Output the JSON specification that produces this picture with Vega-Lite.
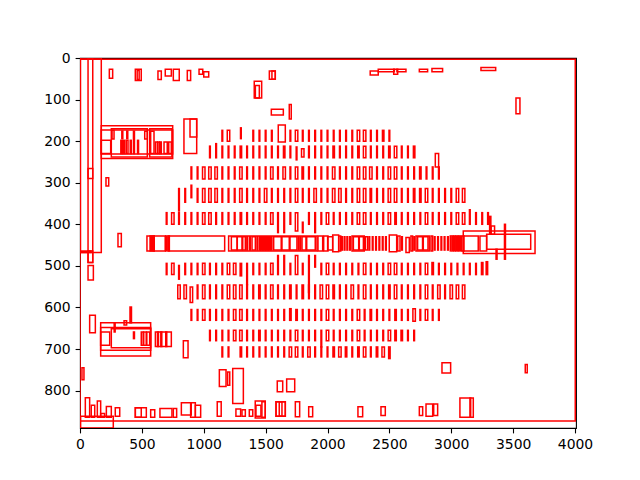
{
"$schema": "https://vega.github.io/schema/vega-lite/v6.json",
"width": 496, "height": 370,
"autosize": "none",
"padding": {"left": 80, "top": 58, "right": 64, "bottom": 52},
"background": "white",
"config": {
 "view": {"stroke": "black", "strokeWidth": 1.1},
 "axis": {"domain": false, "grid": false, "ticks": true, "tickColor": "black", "tickWidth": 1.1, "tickSize": 4.9, "labelFont": "DejaVu Sans", "labelFontSize": 13.9, "labelColor": "black", "labelPadding": 4.9, "title": null, "labelOverlap": false, "format": "d"}
},
"data": {"values": [
{"x":0,"x2":4002,"y":3,"y2":873},
{"x":5,"x2":269,"y":862,"y2":890},
{"x":4,"x2":172,"y":0,"y2":468},
{"x":65,"x2":103,"y":0,"y2":492},
{"x":0,"x2":89,"y":464,"y2":468},
{"x":65,"x2":103,"y":464,"y2":492},
{"x":65,"x2":103,"y":266,"y2":290},
{"x":65,"x2":108,"y":499,"y2":534},
{"x":307,"x2":334,"y":422,"y2":454},
{"x":210,"x2":232,"y":288,"y2":308},
{"x":237,"x2":264,"y":27,"y2":49},
{"x":447,"x2":495,"y":27,"y2":54},
{"x":462,"x2":478,"y":30,"y2":52},
{"x":630,"x2":657,"y":31,"y2":52},
{"x":689,"x2":738,"y":27,"y2":43},
{"x":754,"x2":802,"y":27,"y2":54},
{"x":867,"x2":894,"y":30,"y2":54},
{"x":962,"x2":992,"y":27,"y2":39},
{"x":1000,"x2":1040,"y":33,"y2":46},
{"x":1408,"x2":1468,"y":56,"y2":96},
{"x":1417,"x2":1449,"y":66,"y2":96},
{"x":1530,"x2":1578,"y":31,"y2":51},
{"x":1551,"x2":1578,"y":31,"y2":51},
{"x":1546,"x2":1643,"y":123,"y2":137},
{"x":1691,"x2":1707,"y":112,"y2":147},
{"x":2345,"x2":2410,"y":31,"y2":41},
{"x":2410,"x2":2540,"y":27,"y2":33},
{"x":2535,"x2":2567,"y":27,"y2":39},
{"x":2561,"x2":2634,"y":27,"y2":33},
{"x":2742,"x2":2809,"y":27,"y2":33},
{"x":2844,"x2":2930,"y":25,"y2":33},
{"x":3240,"x2":3359,"y":23,"y2":30},
{"x":3523,"x2":3555,"y":96,"y2":134},
{"x":172,"x2":749,"y":163,"y2":242},
{"x":172,"x2":749,"y":173,"y2":231},
{"x":253,"x2":544,"y":170,"y2":238},
{"x":563,"x2":743,"y":170,"y2":238},
{"x":172,"x2":248,"y":198,"y2":230},
{"x":259,"x2":275,"y":174,"y2":195},
{"x":330,"x2":342,"y":198,"y2":230},
{"x":350,"x2":362,"y":198,"y2":230},
{"x":374,"x2":388,"y":198,"y2":230},
{"x":338,"x2":346,"y":176,"y2":194},
{"x":378,"x2":386,"y":176,"y2":194},
{"x":406,"x2":414,"y":198,"y2":230},
{"x":432,"x2":440,"y":176,"y2":230},
{"x":465,"x2":473,"y":198,"y2":230},
{"x":523,"x2":544,"y":176,"y2":195},
{"x":571,"x2":598,"y":176,"y2":230},
{"x":609,"x2":625,"y":202,"y2":230},
{"x":628,"x2":642,"y":202,"y2":230},
{"x":645,"x2":657,"y":202,"y2":230},
{"x":679,"x2":705,"y":202,"y2":230},
{"x":717,"x2":738,"y":202,"y2":230},
{"x":840,"x2":943,"y":147,"y2":230},
{"x":889,"x2":943,"y":147,"y2":190},
{"x":167,"x2":571,"y":637,"y2":717},
{"x":167,"x2":571,"y":648,"y2":703},
{"x":253,"x2":571,"y":651,"y2":697},
{"x":167,"x2":240,"y":659,"y2":691},
{"x":404,"x2":416,"y":599,"y2":637},
{"x":356,"x2":377,"y":632,"y2":642},
{"x":276,"x2":284,"y":637,"y2":659},
{"x":432,"x2":440,"y":659,"y2":675},
{"x":495,"x2":510,"y":659,"y2":691},
{"x":515,"x2":535,"y":659,"y2":691},
{"x":540,"x2":563,"y":659,"y2":691},
{"x":609,"x2":738,"y":659,"y2":694},
{"x":626,"x2":634,"y":659,"y2":694},
{"x":653,"x2":661,"y":659,"y2":694},
{"x":693,"x2":701,"y":659,"y2":694},
{"x":78,"x2":124,"y":619,"y2":661},
{"x":835,"x2":873,"y":680,"y2":721},
{"x":16,"x2":32,"y":745,"y2":774},
{"x":1126,"x2":1180,"y":750,"y2":790},
{"x":1193,"x2":1210,"y":755,"y2":787},
{"x":1234,"x2":1320,"y":747,"y2":831},
{"x":1594,"x2":1638,"y":777,"y2":803},
{"x":1670,"x2":1735,"y":772,"y2":803},
{"x":2925,"x2":2995,"y":733,"y2":758},
{"x":3598,"x2":3614,"y":737,"y2":757},
{"x":43,"x2":78,"y":817,"y2":864},
{"x":91,"x2":119,"y":835,"y2":864},
{"x":140,"x2":167,"y":825,"y2":864},
{"x":167,"x2":199,"y":855,"y2":864},
{"x":213,"x2":253,"y":838,"y2":864},
{"x":285,"x2":321,"y":841,"y2":862},
{"x":447,"x2":536,"y":841,"y2":864},
{"x":447,"x2":495,"y":841,"y2":864},
{"x":571,"x2":604,"y":846,"y2":864},
{"x":646,"x2":743,"y":843,"y2":864},
{"x":754,"x2":781,"y":843,"y2":864},
{"x":819,"x2":899,"y":829,"y2":859},
{"x":894,"x2":932,"y":829,"y2":864},
{"x":932,"x2":975,"y":835,"y2":864},
{"x":1109,"x2":1141,"y":827,"y2":862},
{"x":1260,"x2":1298,"y":844,"y2":862},
{"x":1309,"x2":1336,"y":846,"y2":862},
{"x":1368,"x2":1396,"y":846,"y2":862},
{"x":1416,"x2":1497,"y":825,"y2":866},
{"x":1422,"x2":1462,"y":835,"y2":862},
{"x":1470,"x2":1497,"y":827,"y2":864},
{"x":1584,"x2":1659,"y":827,"y2":862},
{"x":1584,"x2":1632,"y":827,"y2":862},
{"x":1610,"x2":1659,"y":827,"y2":862},
{"x":1740,"x2":1775,"y":827,"y2":863},
{"x":1848,"x2":1880,"y":839,"y2":863},
{"x":2246,"x2":2284,"y":839,"y2":863},
{"x":2432,"x2":2467,"y":839,"y2":860},
{"x":2742,"x2":2769,"y":839,"y2":860},
{"x":2796,"x2":2850,"y":832,"y2":862},
{"x":2858,"x2":2890,"y":832,"y2":860},
{"x":3070,"x2":3157,"y":818,"y2":864},
{"x":3151,"x2":3178,"y":818,"y2":864},
{"x":541,"x2":598,"y":428,"y2":464},
{"x":566,"x2":578,"y":428,"y2":464},
{"x":588,"x2":600,"y":428,"y2":464},
{"x":598,"x2":689,"y":428,"y2":464},
{"x":692,"x2":702,"y":428,"y2":464},
{"x":710,"x2":722,"y":428,"y2":464},
{"x":717,"x2":1169,"y":428,"y2":464},
{"x":1201,"x2":1915,"y":428,"y2":464},
{"x":1223,"x2":1269,"y":430,"y2":462},
{"x":1271,"x2":1309,"y":430,"y2":462},
{"x":1315,"x2":1336,"y":430,"y2":462},
{"x":1348,"x2":1354,"y":430,"y2":462},
{"x":1370,"x2":1376,"y":430,"y2":462},
{"x":1390,"x2":1417,"y":430,"y2":462},
{"x":1430,"x2":1436,"y":430,"y2":462},
{"x":1449,"x2":1457,"y":430,"y2":462},
{"x":1462,"x2":1470,"y":430,"y2":462},
{"x":1475,"x2":1483,"y":430,"y2":462},
{"x":1488,"x2":1496,"y":430,"y2":462},
{"x":1501,"x2":1509,"y":430,"y2":462},
{"x":1514,"x2":1522,"y":430,"y2":462},
{"x":1527,"x2":1535,"y":430,"y2":462},
{"x":1541,"x2":1551,"y":430,"y2":462},
{"x":1565,"x2":1626,"y":430,"y2":462},
{"x":1632,"x2":1691,"y":430,"y2":462},
{"x":1697,"x2":1753,"y":430,"y2":462},
{"x":1763,"x2":1769,"y":430,"y2":462},
{"x":1778,"x2":1784,"y":430,"y2":462},
{"x":1794,"x2":1826,"y":430,"y2":462},
{"x":1832,"x2":1901,"y":430,"y2":462},
{"x":1923,"x2":1961,"y":428,"y2":464},
{"x":1969,"x2":2004,"y":428,"y2":464},
{"x":2001,"x2":2042,"y":430,"y2":462},
{"x":2042,"x2":2090,"y":426,"y2":466},
{"x":2092,"x2":2107,"y":428,"y2":464},
{"x":2114,"x2":2120,"y":430,"y2":462},
{"x":2135,"x2":2141,"y":430,"y2":462},
{"x":2157,"x2":2163,"y":430,"y2":462},
{"x":2179,"x2":2185,"y":430,"y2":462},
{"x":2198,"x2":2297,"y":428,"y2":464},
{"x":2209,"x2":2252,"y":430,"y2":462},
{"x":2257,"x2":2290,"y":430,"y2":462},
{"x":2306,"x2":2324,"y":430,"y2":462},
{"x":2335,"x2":2341,"y":430,"y2":462},
{"x":2362,"x2":2368,"y":430,"y2":462},
{"x":2389,"x2":2395,"y":430,"y2":462},
{"x":2416,"x2":2422,"y":430,"y2":462},
{"x":2443,"x2":2449,"y":430,"y2":462},
{"x":2469,"x2":2475,"y":430,"y2":462},
{"x":2499,"x2":2559,"y":426,"y2":466},
{"x":2567,"x2":2586,"y":428,"y2":464},
{"x":2599,"x2":2605,"y":430,"y2":462},
{"x":2634,"x2":2661,"y":432,"y2":468},
{"x":2674,"x2":2688,"y":428,"y2":464},
{"x":2698,"x2":2704,"y":430,"y2":462},
{"x":2715,"x2":2822,"y":428,"y2":464},
{"x":2728,"x2":2768,"y":430,"y2":462},
{"x":2774,"x2":2812,"y":430,"y2":462},
{"x":2836,"x2":2850,"y":428,"y2":464},
{"x":2863,"x2":2869,"y":430,"y2":462},
{"x":2890,"x2":2896,"y":430,"y2":462},
{"x":2917,"x2":2923,"y":430,"y2":462},
{"x":2943,"x2":2949,"y":430,"y2":462},
{"x":2970,"x2":2976,"y":430,"y2":462},
{"x":2992,"x2":2998,"y":428,"y2":464},
{"x":3007,"x2":3013,"y":428,"y2":464},
{"x":3019,"x2":3031,"y":428,"y2":464},
{"x":3037,"x2":3043,"y":428,"y2":464},
{"x":3052,"x2":3058,"y":428,"y2":464},
{"x":3064,"x2":3076,"y":428,"y2":464},
{"x":3084,"x2":3103,"y":428,"y2":464},
{"x":3097,"x2":3677,"y":416,"y2":470},
{"x":3097,"x2":3218,"y":428,"y2":464},
{"x":3232,"x2":3286,"y":428,"y2":464},
{"x":3286,"x2":3642,"y":424,"y2":460},
{"x":3310,"x2":3320,"y":381,"y2":424},
{"x":3322,"x2":3350,"y":404,"y2":424},
{"x":3430,"x2":3438,"y":400,"y2":484},
{"x":3362,"x2":3370,"y":460,"y2":484},

{"x":1147,"x2":1153,"y":174,"y2":200},
{"x":1190,"x2":1210,"y":174,"y2":200},
{"x":1297,"x2":1303,"y":168,"y2":194},
{"x":1397,"x2":1403,"y":174,"y2":200},
{"x":1447,"x2":1453,"y":174,"y2":200},
{"x":1497,"x2":1503,"y":174,"y2":200},
{"x":1547,"x2":1553,"y":174,"y2":200},
{"x":1602,"x2":1659,"y":161,"y2":202},
{"x":1697,"x2":1703,"y":174,"y2":200},
{"x":1740,"x2":1760,"y":174,"y2":200},
{"x":1797,"x2":1803,"y":174,"y2":200},
{"x":1847,"x2":1853,"y":174,"y2":200},
{"x":1897,"x2":1903,"y":174,"y2":200},
{"x":1947,"x2":1953,"y":174,"y2":200},
{"x":1997,"x2":2003,"y":174,"y2":200},
{"x":2047,"x2":2053,"y":174,"y2":200},
{"x":2097,"x2":2103,"y":174,"y2":200},
{"x":2147,"x2":2153,"y":174,"y2":200},
{"x":2197,"x2":2203,"y":174,"y2":200},
{"x":2240,"x2":2260,"y":174,"y2":200},
{"x":2290,"x2":2310,"y":174,"y2":200},
{"x":2347,"x2":2353,"y":174,"y2":200},
{"x":2397,"x2":2403,"y":174,"y2":200},
{"x":2444,"x2":2456,"y":174,"y2":200},
{"x":2497,"x2":2503,"y":174,"y2":200},

{"x":1047,"x2":1053,"y":212,"y2":240},
{"x":1097,"x2":1103,"y":206,"y2":240},
{"x":1147,"x2":1153,"y":212,"y2":240},
{"x":1197,"x2":1203,"y":212,"y2":240},
{"x":1247,"x2":1253,"y":212,"y2":240},
{"x":1294,"x2":1306,"y":212,"y2":240},
{"x":1347,"x2":1353,"y":212,"y2":240},
{"x":1397,"x2":1403,"y":212,"y2":240},
{"x":1447,"x2":1453,"y":212,"y2":240},
{"x":1497,"x2":1503,"y":212,"y2":240},
{"x":1547,"x2":1553,"y":212,"y2":240},
{"x":1597,"x2":1603,"y":212,"y2":240},
{"x":1644,"x2":1656,"y":212,"y2":240},
{"x":1697,"x2":1703,"y":212,"y2":240},
{"x":1747,"x2":1753,"y":214,"y2":245},
{"x":1790,"x2":1810,"y":218,"y2":238},
{"x":1847,"x2":1853,"y":212,"y2":240},
{"x":1897,"x2":1903,"y":212,"y2":240},
{"x":1947,"x2":1953,"y":212,"y2":240},
{"x":1997,"x2":2003,"y":212,"y2":240},
{"x":2044,"x2":2056,"y":212,"y2":240},
{"x":2097,"x2":2103,"y":212,"y2":240},
{"x":2147,"x2":2153,"y":212,"y2":240},
{"x":2197,"x2":2203,"y":212,"y2":240},
{"x":2244,"x2":2256,"y":212,"y2":240},
{"x":2290,"x2":2310,"y":212,"y2":240},
{"x":2347,"x2":2353,"y":212,"y2":240},
{"x":2397,"x2":2403,"y":212,"y2":240},
{"x":2447,"x2":2453,"y":212,"y2":240},
{"x":2494,"x2":2506,"y":212,"y2":240},
{"x":2540,"x2":2560,"y":212,"y2":240},
{"x":2597,"x2":2603,"y":212,"y2":240},
{"x":2647,"x2":2653,"y":212,"y2":240},
{"x":2694,"x2":2706,"y":212,"y2":240},

{"x":2871,"x2":2898,"y":230,"y2":262},
{"x":897,"x2":903,"y":262,"y2":291},
{"x":947,"x2":953,"y":262,"y2":291},
{"x":990,"x2":1010,"y":262,"y2":291},
{"x":1040,"x2":1060,"y":262,"y2":291},
{"x":1090,"x2":1110,"y":262,"y2":291},
{"x":1147,"x2":1153,"y":262,"y2":291},
{"x":1197,"x2":1203,"y":262,"y2":291},
{"x":1247,"x2":1253,"y":262,"y2":291},
{"x":1290,"x2":1310,"y":262,"y2":291},
{"x":1347,"x2":1353,"y":262,"y2":291},
{"x":1397,"x2":1403,"y":262,"y2":291},
{"x":1447,"x2":1453,"y":262,"y2":291},
{"x":1497,"x2":1503,"y":262,"y2":291},
{"x":1540,"x2":1560,"y":262,"y2":291},
{"x":1597,"x2":1603,"y":262,"y2":291},
{"x":1640,"x2":1660,"y":262,"y2":291},
{"x":1697,"x2":1703,"y":262,"y2":291},
{"x":1740,"x2":1760,"y":262,"y2":291},
{"x":1794,"x2":1806,"y":262,"y2":291},
{"x":1847,"x2":1853,"y":262,"y2":291},
{"x":1897,"x2":1903,"y":262,"y2":291},
{"x":1947,"x2":1953,"y":262,"y2":291},
{"x":1997,"x2":2003,"y":262,"y2":291},
{"x":2040,"x2":2060,"y":262,"y2":291},
{"x":2097,"x2":2103,"y":262,"y2":291},
{"x":2147,"x2":2153,"y":262,"y2":291},
{"x":2197,"x2":2203,"y":262,"y2":291},
{"x":2240,"x2":2260,"y":262,"y2":291},
{"x":2290,"x2":2310,"y":262,"y2":291},
{"x":2340,"x2":2360,"y":262,"y2":291},
{"x":2397,"x2":2403,"y":262,"y2":291},
{"x":2447,"x2":2453,"y":262,"y2":291},
{"x":2490,"x2":2510,"y":262,"y2":291},
{"x":2540,"x2":2560,"y":262,"y2":291},
{"x":2597,"x2":2603,"y":262,"y2":291},
{"x":2647,"x2":2653,"y":262,"y2":291},
{"x":2697,"x2":2703,"y":262,"y2":291},
{"x":2744,"x2":2756,"y":262,"y2":291},
{"x":2797,"x2":2803,"y":262,"y2":291},
{"x":2847,"x2":2853,"y":262,"y2":291},
{"x":2897,"x2":2903,"y":262,"y2":291},

{"x":797,"x2":803,"y":314,"y2":368},
{"x":847,"x2":853,"y":314,"y2":347},
{"x":897,"x2":903,"y":306,"y2":336},
{"x":947,"x2":953,"y":314,"y2":347},
{"x":990,"x2":1010,"y":314,"y2":347},
{"x":1040,"x2":1060,"y":314,"y2":347},
{"x":1090,"x2":1110,"y":314,"y2":347},
{"x":1147,"x2":1153,"y":314,"y2":347},
{"x":1197,"x2":1203,"y":314,"y2":347},
{"x":1247,"x2":1253,"y":314,"y2":347},
{"x":1290,"x2":1310,"y":314,"y2":347},
{"x":1347,"x2":1353,"y":314,"y2":347},
{"x":1397,"x2":1403,"y":314,"y2":347},
{"x":1447,"x2":1453,"y":314,"y2":347},
{"x":1490,"x2":1510,"y":314,"y2":347},
{"x":1547,"x2":1553,"y":314,"y2":347},
{"x":1597,"x2":1603,"y":314,"y2":347},
{"x":1647,"x2":1653,"y":314,"y2":347},
{"x":1697,"x2":1703,"y":314,"y2":347},
{"x":1740,"x2":1760,"y":314,"y2":347},
{"x":1797,"x2":1803,"y":314,"y2":347},
{"x":1847,"x2":1853,"y":314,"y2":347},
{"x":1890,"x2":1910,"y":314,"y2":347},
{"x":1947,"x2":1953,"y":314,"y2":347},
{"x":1997,"x2":2003,"y":314,"y2":347},
{"x":2040,"x2":2060,"y":314,"y2":347},
{"x":2090,"x2":2110,"y":314,"y2":347},
{"x":2147,"x2":2153,"y":314,"y2":347},
{"x":2197,"x2":2203,"y":314,"y2":347},
{"x":2240,"x2":2260,"y":314,"y2":347},
{"x":2290,"x2":2310,"y":314,"y2":347},
{"x":2344,"x2":2356,"y":314,"y2":347},
{"x":2397,"x2":2403,"y":314,"y2":347},
{"x":2447,"x2":2453,"y":314,"y2":347},
{"x":2490,"x2":2510,"y":314,"y2":347},
{"x":2540,"x2":2560,"y":314,"y2":347},
{"x":2597,"x2":2603,"y":314,"y2":347},
{"x":2647,"x2":2653,"y":314,"y2":347},
{"x":2694,"x2":2706,"y":314,"y2":347},
{"x":2744,"x2":2756,"y":314,"y2":347},
{"x":2790,"x2":2810,"y":314,"y2":347},
{"x":2847,"x2":2853,"y":314,"y2":347},
{"x":2897,"x2":2903,"y":314,"y2":347},
{"x":2947,"x2":2953,"y":314,"y2":347},
{"x":2997,"x2":3003,"y":314,"y2":347},
{"x":3040,"x2":3060,"y":314,"y2":347},
{"x":3090,"x2":3110,"y":314,"y2":347},

{"x":697,"x2":703,"y":372,"y2":400},
{"x":740,"x2":760,"y":372,"y2":400},
{"x":797,"x2":803,"y":372,"y2":400},
{"x":847,"x2":853,"y":372,"y2":400},
{"x":897,"x2":903,"y":372,"y2":400},
{"x":947,"x2":953,"y":372,"y2":400},
{"x":990,"x2":1010,"y":372,"y2":400},
{"x":1040,"x2":1060,"y":372,"y2":400},
{"x":1097,"x2":1103,"y":372,"y2":400},
{"x":1147,"x2":1153,"y":372,"y2":400},
{"x":1197,"x2":1203,"y":372,"y2":400},
{"x":1247,"x2":1253,"y":372,"y2":400},
{"x":1294,"x2":1306,"y":372,"y2":400},
{"x":1347,"x2":1353,"y":372,"y2":400},
{"x":1397,"x2":1403,"y":372,"y2":400},
{"x":1447,"x2":1453,"y":372,"y2":400},
{"x":1497,"x2":1503,"y":372,"y2":400},
{"x":1540,"x2":1560,"y":372,"y2":400},
{"x":1597,"x2":1603,"y":372,"y2":420},
{"x":1647,"x2":1653,"y":372,"y2":420},
{"x":1697,"x2":1703,"y":372,"y2":400},
{"x":1740,"x2":1760,"y":372,"y2":416},
{"x":1797,"x2":1803,"y":395,"y2":420},
{"x":1847,"x2":1853,"y":372,"y2":400},
{"x":1897,"x2":1903,"y":372,"y2":420},
{"x":1947,"x2":1953,"y":372,"y2":400},
{"x":1990,"x2":2010,"y":372,"y2":400},
{"x":2047,"x2":2053,"y":372,"y2":400},
{"x":2097,"x2":2103,"y":372,"y2":400},
{"x":2147,"x2":2153,"y":372,"y2":400},
{"x":2197,"x2":2203,"y":372,"y2":400},
{"x":2240,"x2":2260,"y":372,"y2":400},
{"x":2290,"x2":2310,"y":372,"y2":400},
{"x":2347,"x2":2353,"y":372,"y2":400},
{"x":2397,"x2":2403,"y":372,"y2":400},
{"x":2447,"x2":2453,"y":372,"y2":400},
{"x":2490,"x2":2510,"y":372,"y2":400},
{"x":2544,"x2":2556,"y":372,"y2":400},
{"x":2597,"x2":2603,"y":372,"y2":400},
{"x":2647,"x2":2653,"y":372,"y2":400},
{"x":2697,"x2":2703,"y":372,"y2":400},
{"x":2747,"x2":2753,"y":372,"y2":400},
{"x":2790,"x2":2810,"y":372,"y2":400},
{"x":2847,"x2":2853,"y":372,"y2":400},
{"x":2897,"x2":2903,"y":372,"y2":400},
{"x":2947,"x2":2953,"y":372,"y2":400},
{"x":2997,"x2":3003,"y":372,"y2":400},
{"x":3040,"x2":3060,"y":372,"y2":400},
{"x":3090,"x2":3110,"y":372,"y2":400},
{"x":3147,"x2":3153,"y":365,"y2":400},
{"x":3197,"x2":3203,"y":372,"y2":400},
{"x":3247,"x2":3253,"y":372,"y2":400},
{"x":3294,"x2":3300,"y":372,"y2":400},

{"x":697,"x2":703,"y":494,"y2":521},
{"x":740,"x2":760,"y":494,"y2":521},
{"x":797,"x2":803,"y":499,"y2":532},
{"x":847,"x2":853,"y":494,"y2":521},
{"x":897,"x2":903,"y":494,"y2":521},
{"x":947,"x2":953,"y":494,"y2":521},
{"x":990,"x2":1010,"y":494,"y2":521},
{"x":1047,"x2":1053,"y":494,"y2":521},
{"x":1097,"x2":1103,"y":494,"y2":521},
{"x":1147,"x2":1153,"y":494,"y2":521},
{"x":1190,"x2":1210,"y":494,"y2":521},
{"x":1240,"x2":1260,"y":494,"y2":521},
{"x":1294,"x2":1306,"y":494,"y2":524},
{"x":1347,"x2":1353,"y":494,"y2":545},
{"x":1397,"x2":1403,"y":494,"y2":521},
{"x":1447,"x2":1453,"y":494,"y2":521},
{"x":1497,"x2":1503,"y":494,"y2":521},
{"x":1540,"x2":1560,"y":494,"y2":521},
{"x":1597,"x2":1603,"y":475,"y2":521},
{"x":1647,"x2":1653,"y":475,"y2":521},
{"x":1697,"x2":1703,"y":494,"y2":521},
{"x":1740,"x2":1760,"y":475,"y2":521},
{"x":1797,"x2":1803,"y":494,"y2":521},
{"x":1847,"x2":1853,"y":475,"y2":564},
{"x":1897,"x2":1903,"y":475,"y2":503},
{"x":1947,"x2":1953,"y":494,"y2":521},
{"x":1990,"x2":2010,"y":494,"y2":521},
{"x":2047,"x2":2053,"y":494,"y2":521},
{"x":2097,"x2":2103,"y":494,"y2":521},
{"x":2147,"x2":2153,"y":494,"y2":521},
{"x":2197,"x2":2203,"y":494,"y2":521},
{"x":2247,"x2":2253,"y":494,"y2":521},
{"x":2290,"x2":2310,"y":494,"y2":521},
{"x":2347,"x2":2353,"y":494,"y2":521},
{"x":2397,"x2":2403,"y":494,"y2":521},
{"x":2447,"x2":2453,"y":494,"y2":521},
{"x":2490,"x2":2510,"y":494,"y2":521},
{"x":2540,"x2":2560,"y":494,"y2":521},
{"x":2597,"x2":2603,"y":494,"y2":521},
{"x":2647,"x2":2653,"y":494,"y2":521},
{"x":2697,"x2":2703,"y":494,"y2":521},
{"x":2747,"x2":2753,"y":494,"y2":521},
{"x":2790,"x2":2810,"y":494,"y2":521},
{"x":2844,"x2":2856,"y":492,"y2":521},
{"x":2897,"x2":2903,"y":494,"y2":521},
{"x":2947,"x2":2953,"y":494,"y2":521},
{"x":2997,"x2":3003,"y":494,"y2":521},
{"x":3047,"x2":3053,"y":494,"y2":521},
{"x":3097,"x2":3103,"y":494,"y2":521},
{"x":3147,"x2":3153,"y":494,"y2":521},
{"x":3197,"x2":3203,"y":494,"y2":521},
{"x":3244,"x2":3256,"y":492,"y2":521},
{"x":3282,"x2":3294,"y":490,"y2":521},

{"x":790,"x2":810,"y":546,"y2":579},
{"x":840,"x2":860,"y":546,"y2":579},
{"x":890,"x2":910,"y":551,"y2":588},
{"x":947,"x2":953,"y":546,"y2":579},
{"x":990,"x2":1010,"y":546,"y2":579},
{"x":1047,"x2":1053,"y":546,"y2":579},
{"x":1097,"x2":1103,"y":546,"y2":579},
{"x":1147,"x2":1153,"y":546,"y2":579},
{"x":1190,"x2":1210,"y":546,"y2":579},
{"x":1240,"x2":1260,"y":546,"y2":579},
{"x":1290,"x2":1310,"y":546,"y2":579},
{"x":1347,"x2":1353,"y":546,"y2":579},
{"x":1397,"x2":1403,"y":546,"y2":579},
{"x":1444,"x2":1456,"y":546,"y2":579},
{"x":1497,"x2":1503,"y":546,"y2":579},
{"x":1540,"x2":1560,"y":546,"y2":579},
{"x":1597,"x2":1603,"y":546,"y2":579},
{"x":1647,"x2":1653,"y":546,"y2":579},
{"x":1694,"x2":1706,"y":546,"y2":579},
{"x":1747,"x2":1753,"y":546,"y2":579},
{"x":1794,"x2":1806,"y":546,"y2":579},
{"x":1847,"x2":1853,"y":546,"y2":579},
{"x":1897,"x2":1903,"y":546,"y2":579},
{"x":1940,"x2":1960,"y":546,"y2":579},
{"x":1990,"x2":2010,"y":546,"y2":579},
{"x":2044,"x2":2056,"y":546,"y2":579},
{"x":2097,"x2":2103,"y":546,"y2":579},
{"x":2147,"x2":2153,"y":546,"y2":579},
{"x":2190,"x2":2210,"y":546,"y2":579},
{"x":2247,"x2":2253,"y":546,"y2":579},
{"x":2290,"x2":2310,"y":546,"y2":579},
{"x":2347,"x2":2353,"y":546,"y2":579},
{"x":2397,"x2":2403,"y":546,"y2":579},
{"x":2447,"x2":2453,"y":546,"y2":579},
{"x":2494,"x2":2506,"y":546,"y2":579},
{"x":2540,"x2":2560,"y":546,"y2":579},
{"x":2597,"x2":2603,"y":546,"y2":579},
{"x":2647,"x2":2653,"y":546,"y2":579},
{"x":2697,"x2":2703,"y":546,"y2":579},
{"x":2747,"x2":2753,"y":546,"y2":579},
{"x":2790,"x2":2810,"y":546,"y2":579},
{"x":2847,"x2":2853,"y":546,"y2":579},
{"x":2890,"x2":2910,"y":546,"y2":579},
{"x":2947,"x2":2953,"y":546,"y2":579},
{"x":2990,"x2":3010,"y":546,"y2":579},
{"x":3040,"x2":3060,"y":546,"y2":579},
{"x":3090,"x2":3110,"y":546,"y2":579},

{"x":897,"x2":903,"y":605,"y2":631},
{"x":947,"x2":953,"y":605,"y2":631},
{"x":990,"x2":1010,"y":605,"y2":631},
{"x":1047,"x2":1053,"y":605,"y2":631},
{"x":1097,"x2":1103,"y":605,"y2":631},
{"x":1147,"x2":1153,"y":605,"y2":631},
{"x":1197,"x2":1203,"y":605,"y2":631},
{"x":1240,"x2":1260,"y":605,"y2":631},
{"x":1290,"x2":1310,"y":605,"y2":631},
{"x":1347,"x2":1353,"y":605,"y2":631},
{"x":1397,"x2":1403,"y":605,"y2":631},
{"x":1447,"x2":1453,"y":605,"y2":631},
{"x":1497,"x2":1503,"y":605,"y2":631},
{"x":1547,"x2":1553,"y":605,"y2":631},
{"x":1597,"x2":1603,"y":605,"y2":631},
{"x":1647,"x2":1653,"y":605,"y2":631},
{"x":1694,"x2":1706,"y":603,"y2":631},
{"x":1744,"x2":1756,"y":605,"y2":631},
{"x":1797,"x2":1803,"y":605,"y2":631},
{"x":1847,"x2":1853,"y":605,"y2":631},
{"x":1897,"x2":1903,"y":605,"y2":631},
{"x":1947,"x2":1953,"y":605,"y2":631},
{"x":1990,"x2":2010,"y":605,"y2":631},
{"x":2047,"x2":2053,"y":605,"y2":631},
{"x":2097,"x2":2103,"y":605,"y2":631},
{"x":2147,"x2":2153,"y":605,"y2":631},
{"x":2197,"x2":2203,"y":605,"y2":631},
{"x":2240,"x2":2260,"y":605,"y2":631},
{"x":2297,"x2":2303,"y":605,"y2":631},
{"x":2344,"x2":2356,"y":605,"y2":631},
{"x":2397,"x2":2403,"y":605,"y2":631},
{"x":2447,"x2":2453,"y":605,"y2":631},
{"x":2497,"x2":2503,"y":605,"y2":631},
{"x":2544,"x2":2556,"y":605,"y2":631},
{"x":2597,"x2":2603,"y":605,"y2":631},
{"x":2647,"x2":2653,"y":605,"y2":631},
{"x":2690,"x2":2710,"y":603,"y2":633},
{"x":2747,"x2":2753,"y":605,"y2":631},
{"x":2790,"x2":2810,"y":605,"y2":631},
{"x":2847,"x2":2853,"y":605,"y2":631},
{"x":2897,"x2":2903,"y":605,"y2":631},

{"x":1047,"x2":1053,"y":655,"y2":680},
{"x":1097,"x2":1103,"y":655,"y2":680},
{"x":1147,"x2":1153,"y":655,"y2":680},
{"x":1197,"x2":1203,"y":655,"y2":680},
{"x":1240,"x2":1260,"y":655,"y2":680},
{"x":1290,"x2":1310,"y":655,"y2":680},
{"x":1347,"x2":1353,"y":655,"y2":680},
{"x":1397,"x2":1403,"y":655,"y2":680},
{"x":1444,"x2":1456,"y":655,"y2":680},
{"x":1497,"x2":1503,"y":655,"y2":680},
{"x":1547,"x2":1553,"y":655,"y2":680},
{"x":1597,"x2":1603,"y":655,"y2":680},
{"x":1647,"x2":1653,"y":655,"y2":680},
{"x":1697,"x2":1703,"y":655,"y2":680},
{"x":1740,"x2":1760,"y":655,"y2":680},
{"x":1797,"x2":1803,"y":655,"y2":680},
{"x":1847,"x2":1853,"y":655,"y2":680},
{"x":1897,"x2":1903,"y":655,"y2":680},
{"x":1947,"x2":1953,"y":655,"y2":695},
{"x":1990,"x2":2010,"y":655,"y2":680},
{"x":2047,"x2":2053,"y":655,"y2":680},
{"x":2097,"x2":2103,"y":655,"y2":680},
{"x":2147,"x2":2153,"y":655,"y2":680},
{"x":2197,"x2":2203,"y":655,"y2":680},
{"x":2240,"x2":2260,"y":655,"y2":680},
{"x":2297,"x2":2303,"y":655,"y2":680},
{"x":2347,"x2":2353,"y":655,"y2":680},
{"x":2397,"x2":2403,"y":655,"y2":680},
{"x":2447,"x2":2453,"y":655,"y2":680},
{"x":2490,"x2":2510,"y":655,"y2":680},
{"x":2544,"x2":2556,"y":655,"y2":680},
{"x":2594,"x2":2606,"y":655,"y2":680},
{"x":2647,"x2":2653,"y":655,"y2":680},
{"x":2697,"x2":2703,"y":655,"y2":680},

{"x":1147,"x2":1153,"y":695,"y2":719},
{"x":1197,"x2":1203,"y":695,"y2":719},
{"x":1294,"x2":1306,"y":695,"y2":719},
{"x":1347,"x2":1353,"y":695,"y2":719},
{"x":1397,"x2":1403,"y":695,"y2":719},
{"x":1447,"x2":1453,"y":695,"y2":719},
{"x":1497,"x2":1503,"y":695,"y2":719},
{"x":1547,"x2":1553,"y":695,"y2":719},
{"x":1597,"x2":1603,"y":695,"y2":719},
{"x":1647,"x2":1653,"y":695,"y2":719},
{"x":1690,"x2":1710,"y":695,"y2":719},
{"x":1740,"x2":1760,"y":695,"y2":719},
{"x":1797,"x2":1803,"y":695,"y2":719},
{"x":1840,"x2":1860,"y":695,"y2":719},
{"x":1897,"x2":1903,"y":695,"y2":719},
{"x":1947,"x2":1953,"y":695,"y2":719},
{"x":1997,"x2":2003,"y":695,"y2":719},
{"x":2044,"x2":2056,"y":695,"y2":719},
{"x":2090,"x2":2110,"y":695,"y2":719},
{"x":2144,"x2":2156,"y":695,"y2":719},
{"x":2197,"x2":2203,"y":695,"y2":719},
{"x":2244,"x2":2256,"y":695,"y2":719},
{"x":2290,"x2":2310,"y":695,"y2":719},
{"x":2347,"x2":2353,"y":695,"y2":719},
{"x":2394,"x2":2406,"y":695,"y2":719},
{"x":2440,"x2":2460,"y":695,"y2":719},
{"x":2494,"x2":2506,"y":695,"y2":723}
]},
"mark": {"type": "rect", "filled": false, "stroke": "#ff0000", "strokeWidth": 1.5, "fill": null, "clip": true},
"encoding": {
 "x": {"field": "x", "type": "quantitative", "scale": {"domain": [0, 4008], "nice": false, "zero": false}, "axis": {"values": [0,500,1000,1500,2000,2500,3000,3500,4000], "labelFlush": false}},
 "x2": {"field": "x2"},
 "y": {"field": "y", "type": "quantitative", "scale": {"domain": [0, 890], "nice": false, "zero": false, "reverse": true}, "axis": {"values": [0,100,200,300,400,500,600,700,800]}},
 "y2": {"field": "y2"}
}
}
